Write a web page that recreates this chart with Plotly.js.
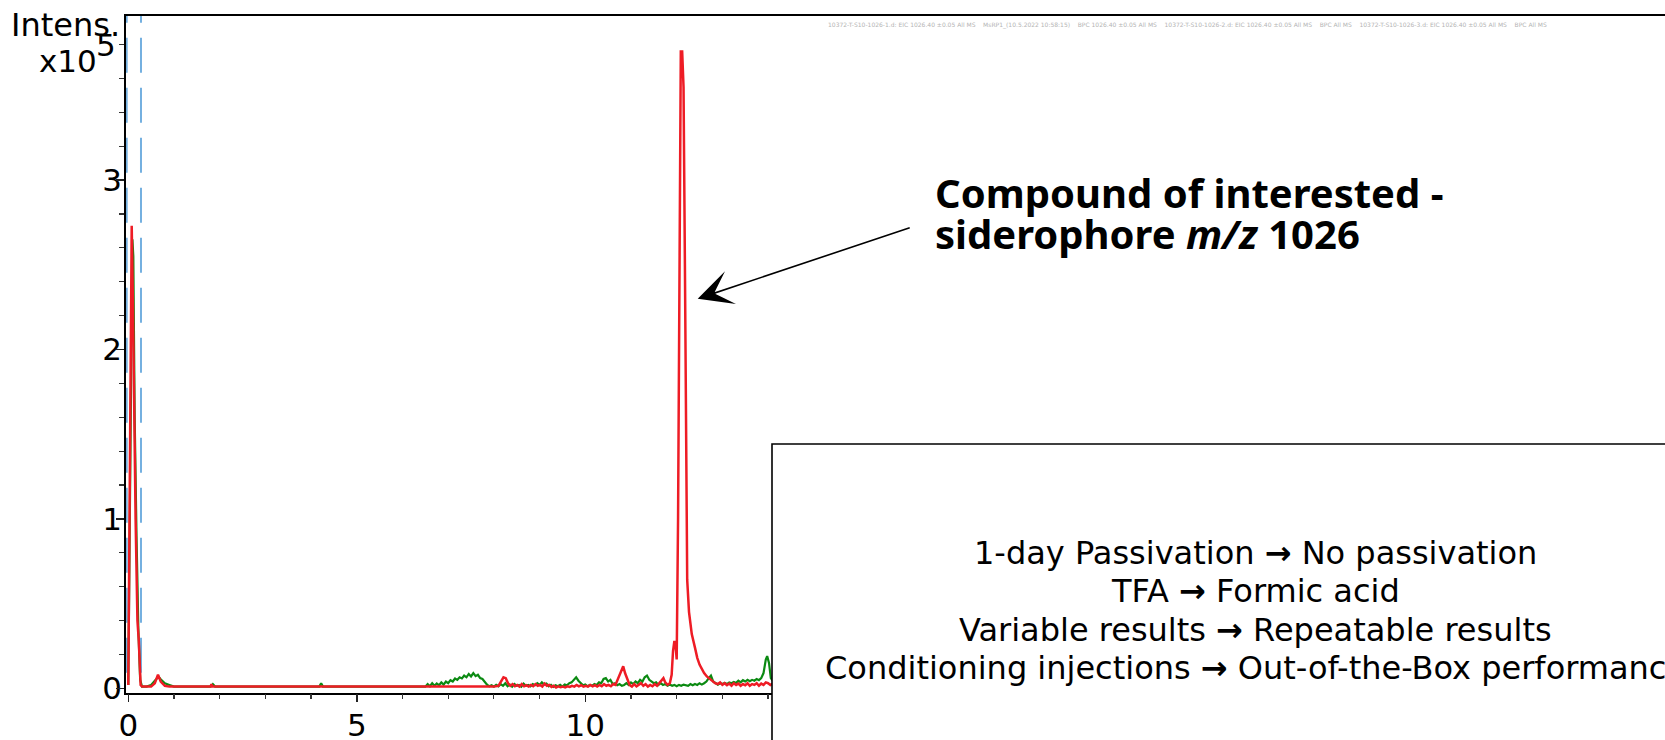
<!DOCTYPE html>
<html>
<head>
<meta charset="utf-8">
<script src="https://cdn.plot.ly/plotly-3.0.1.min.js"></script>
<style>
html,body{margin:0;padding:0;overflow:hidden;background:#fff;}
#chart{width:1900px;height:740px;}
</style>
</head>
<body>
<div id="chart"></div>
<script>
// Retention time (min) and intensity (x10^5)
const greenTime = [0,0.03,0.06,0.09,0.11,0.14,0.18,0.22,0.26,0.3,0.4,0.5,0.6,0.66,0.72,0.8,0.9,1.0,1.5,1.8,1.85,1.9,2.5,3.0,4.18,4.22,4.26,5.0,6.0,
6.50,6.55,6.60,6.65,6.70,6.75,6.80,6.85,6.90,6.95,7.00,7.05,7.10,7.15,7.20,7.25,7.30,7.35,7.40,7.45,7.50,7.55,7.60,7.65,7.70,7.75,7.80,7.85,7.90,7.95,
8.00,8.05,8.10,8.15,8.20,8.25,8.30,8.35,8.40,8.45,8.50,8.55,8.60,8.65,8.70,8.75,8.80,8.85,8.90,8.95,
9.00,9.05,9.10,9.15,9.20,9.25,9.30,9.35,9.40,9.45,9.50,9.55,9.60,9.65,9.70,9.75,9.80,9.85,9.90,9.95,
10.00,10.05,10.10,10.15,10.20,10.25,10.30,10.35,10.40,10.45,10.50,10.55,10.60,10.65,10.70,10.75,10.80,10.85,10.90,10.95,
11.00,11.05,11.10,11.15,11.20,11.25,11.30,11.35,11.40,11.45,11.50,11.55,11.60,11.65,11.70,11.75,11.80,11.85,11.90,11.95,
12.00,12.05,12.10,12.15,12.20,12.25,12.30,12.35,12.40,12.45,12.50,12.55,12.60,12.65,12.70,12.75,12.80,12.85,12.90,12.95,
13.00,13.05,13.10,13.15,13.20,13.25,13.30,13.35,13.40,13.45,13.50,13.55,13.60,13.65,13.70,13.75,13.80,13.85,13.90,13.95,
13.98,14.02,14.06,14.10,14.15,14.20,14.30];
const greenIntensity = [0.02,0.9,2.2,2.65,2.55,1.6,0.9,0.35,0.05,0.01,0.01,0.02,0.05,0.07,0.05,0.03,0.02,0.01,0.01,0.01,0.025,0.01,0.01,0.01,0.01,0.03,0.01,0.01,0.01,
0.01,0.025,0.012,0.03,0.015,0.028,0.018,0.035,0.022,0.04,0.03,0.048,0.04,0.058,0.05,0.065,0.058,0.075,0.065,0.085,0.07,0.09,0.072,0.08,0.06,0.055,0.035,0.022,0.012,0.018,
0.01,0.02,0.012,0.025,0.015,0.03,0.012,0.022,0.01,0.025,0.015,0.02,0.01,0.028,0.015,0.02,0.012,0.025,0.018,0.03,
0.02,0.035,0.022,0.028,0.012,0.02,0.008,0.018,0.012,0.02,0.01,0.022,0.018,0.03,0.035,0.05,0.065,0.045,0.03,0.018,
0.022,0.012,0.02,0.015,0.025,0.02,0.035,0.03,0.055,0.06,0.04,0.05,0.025,0.03,0.018,0.025,0.015,0.02,0.03,0.02,
0.035,0.025,0.04,0.03,0.05,0.04,0.065,0.075,0.05,0.04,0.03,0.035,0.02,0.03,0.02,0.025,0.015,0.022,0.015,0.02,
0.012,0.02,0.015,0.022,0.018,0.015,0.025,0.018,0.025,0.02,0.03,0.022,0.03,0.04,0.06,0.075,0.04,0.03,0.022,0.03,
0.025,0.032,0.025,0.035,0.03,0.038,0.032,0.045,0.035,0.048,0.04,0.05,0.042,0.05,0.045,0.055,0.048,0.06,0.09,0.17,
0.19,0.15,0.06,0.045,0.05,0.04,0.045];

const redTime = [0,0.03,0.055,0.075,0.1,0.13,0.16,0.2,0.23,0.27,0.3,0.5,0.58,0.65,0.71,0.8,0.9,1.8,1.82,1.84,
8.00,8.10,8.16,8.21,8.26,8.31,8.36,8.41,8.46,8.51,8.56,8.61,8.66,8.71,8.76,8.81,8.86,8.91,8.96,
9.01,9.06,9.11,9.16,9.21,9.26,9.31,9.36,9.41,9.46,9.51,9.56,9.61,9.66,9.71,9.76,9.81,9.86,9.91,9.96,
10.01,10.06,10.11,10.16,10.21,10.26,10.31,10.36,10.41,10.46,10.51,10.56,10.61,10.66,10.72,10.78,10.83,10.87,10.92,10.97,
11.02,11.07,11.12,11.17,11.22,11.27,11.32,11.37,11.42,11.47,11.52,11.57,11.62,11.67,11.71,11.75,11.80,11.85,11.89,11.92,11.95,11.98,
12.00,12.03,12.06,12.09,12.12,12.15,12.18,12.21,12.23,12.27,12.33,12.40,12.45,12.50,12.55,12.60,12.66,12.72,12.78,12.84,12.90,12.95,
13.00,13.05,13.10,13.15,13.20,13.25,13.30,13.35,13.40,13.45,13.50,13.55,13.60,13.65,13.70,13.75,13.80,13.85,13.90,13.95,
14.00,14.05,14.10,14.20];
const redIntensity = [0.02,1.2,2.5,2.73,2.3,1.5,1.0,0.4,0.28,0.02,0.01,0.01,0.03,0.08,0.04,0.015,0.01,0.01,0.025,0.01,
0.01,0.015,0.04,0.065,0.06,0.03,0.015,0.025,0.012,0.02,0.01,0.025,0.012,0.018,0.01,0.02,0.012,0.025,0.015,
0.02,0.01,0.028,0.015,0.02,0.008,0.015,0.005,0.012,0.006,0.01,0.005,0.012,0.008,0.015,0.01,0.02,0.012,0.018,0.01,
0.015,0.01,0.02,0.012,0.018,0.01,0.02,0.012,0.025,0.015,0.02,0.012,0.025,0.02,0.06,0.1,0.13,0.09,0.05,0.02,
0.01,0.025,0.012,0.02,0.03,0.015,0.025,0.01,0.02,0.012,0.025,0.015,0.03,0.05,0.06,0.035,0.02,0.03,0.08,0.22,0.28,0.24,
0.17,1.0,2.6,3.76,3.76,3.55,2.5,1.4,0.64,0.45,0.32,0.24,0.18,0.14,0.11,0.09,0.07,0.055,0.04,0.03,0.025,0.035,
0.02,0.03,0.018,0.028,0.015,0.03,0.02,0.028,0.015,0.025,0.018,0.03,0.015,0.025,0.02,0.03,0.015,0.028,0.02,0.035,
0.03,0.02,0.028,0.02];

const markerTimes = [-0.035, 0.278];
const xTickVals = [0,5,10,15,20,25,30,35];
const xLabelVals = [0,5,10];
const yTickVals = [0,1,2,3];
const yTickText = ['0','1','2','3'];
const boxLines = [
  ['1-day Passivation', 'No passivation'],
  ['TFA', 'Formic acid'],
  ['Variable results', 'Repeatable results'],
  ['Conditioning injections', 'Out-of-the-Box performance']
];
const calloutLines = ['Compound of interested -', 'siderophore <i>m/z</i> 1026'];
const headerText = '10372-T-S10-1026-1.d: EIC 1026.40 \u00b10.05 All MS    MsRP1_(10.5.2022 10:58:15)    BPC 1026.40 \u00b10.05 All MS    10372-T-S10-1026-2.d: EIC 1026.40 \u00b10.05 All MS    BPC All MS    10372-T-S10-1026-3.d: EIC 1026.40 \u00b10.05 All MS    BPC All MS';

// geometry helpers (pixels -> paper)
const W = 1900, H = 740, ML = 126, MT = 16, MB = 47, MR = 50;
const PW = W - ML - MR, PH = H - MT - MB;
const px = x => (x - ML) / PW;
const py = y => (H - MB - y) / PH;
const X_RANGE = [-0.05, -0.05 + PW / 45.7];
const Y_RANGE = [-0.0277, 3.969];

const FONT = 'DejaVu Sans, Verdana, sans-serif';

const traces = [
  {x: greenTime, y: greenIntensity, type: 'scatter', mode: 'lines',
   line: {color: '#0b8a12', width: 2.2}, hoverinfo: 'skip'},
  {x: redTime, y: redIntensity, type: 'scatter', mode: 'lines',
   line: {color: '#ee1c25', width: 2.5}, hoverinfo: 'skip'},
  // empty trace carrying the tick-mark overlay axes
  {x: [null], y: [null], xaxis: 'x2', yaxis: 'y2', type: 'scatter', mode: 'lines', hoverinfo: 'skip'}
];

const shapes = markerTimes.map(t => ({
  type: 'line', xref: 'x', yref: 'paper', x0: t, x1: t, y0: 0.03, y1: 1,
  line: {color: '#74b0e0', width: 2, dash: '35px,15px'}, layer: 'below'
}));
shapes.push({
  type: 'rect', xref: 'paper', yref: 'paper',
  x0: px(772), x1: 1.05, y0: -0.3, y1: py(444),
  fillcolor: '#ffffff', line: {color: '#000000', width: 1.6}, layer: 'above'
});

const annotations = [];
// faint header line (barely visible in the original)
annotations.push({xref: 'paper', yref: 'paper', x: px(826), y: py(25), xanchor: 'left', yanchor: 'middle',
  text: headerText, showarrow: false, font: {family: FONT, size: 6, color: '#b4b4b4'}});

annotations.push({xref: 'paper', yref: 'paper', x: px(122), y: py(25), xanchor: 'right', yanchor: 'middle',
  text: 'Intens.', showarrow: false, font: {family: FONT, size: 32, color: '#000'}});
annotations.push({xref: 'paper', yref: 'paper', x: px(99), y: py(61), xanchor: 'right', yanchor: 'middle',
  text: 'x10', showarrow: false, font: {family: FONT, size: 31, color: '#000'}});
annotations.push({xref: 'paper', yref: 'paper', x: px(94), y: py(45), xanchor: 'left', yanchor: 'middle',
  text: '5', showarrow: false, font: {family: FONT, size: 31, color: '#000'}});

// arrow
annotations.push({xref: 'x', yref: 'y', x: 12.46, y: 2.30, ax: 215, ay: -72, text: ' ',
  showarrow: true, arrowhead: 3, arrowsize: 3.6, arrowwidth: 1.6, arrowcolor: '#000'});
calloutLines.forEach((t, i) => annotations.push({
  xref: 'paper', yref: 'paper', x: px(933), y: py(193 + 40 * i), xanchor: 'left', yanchor: 'middle',
  text: '<b>' + t + '</b>', showarrow: false, font: {family: 'Noto Sans, sans-serif', size: 40, color: '#000'}
}));
boxLines.forEach((t, i) => annotations.push({
  xref: 'paper', yref: 'paper', x: px(1255), y: py(553 + 38.3 * i), xanchor: 'center', yanchor: 'middle',
  text: t[0] + ' <b>\u2192</b> ' + t[1], showarrow: false, font: {family: FONT, size: 32, color: '#000'}
}));

const layout = {
  width: W, height: H,
  margin: {l: ML, r: MR, t: MT, b: MB, pad: 0},
  paper_bgcolor: '#fff', plot_bgcolor: '#fff',
  showlegend: false,
  // label-carrying axes
  xaxis: {
    range: X_RANGE, tickvals: xLabelVals, ticks: '', ticklabelstandoff: 4,
    showline: true, linecolor: '#000', linewidth: 2, mirror: true,
    showgrid: false, zeroline: false, tickfont: {family: FONT, size: 31, color: '#000'}
  },
  yaxis: {
    range: Y_RANGE, tickvals: yTickVals, ticktext: yTickText, ticks: '',
    anchor: 'free', position: 0, ticklabelstandoff: 4,
    showline: false, showgrid: false, zeroline: false, tickfont: {family: FONT, size: 31, color: '#000'}
  },
  // tick-mark axes (also carry the left frame line)
  xaxis2: {
    overlaying: 'x', anchor: 'y2', side: 'bottom', range: X_RANGE, tickvals: xTickVals,
    ticks: 'outside', ticklen: 8, tickwidth: 1.5, tickcolor: '#222', showticklabels: false,
    showline: false, showgrid: false, zeroline: false,
    minor: {dtick: 1, ticks: 'outside', ticklen: 5, tickwidth: 1.2, tickcolor: '#333', showgrid: false}
  },
  yaxis2: {
    overlaying: 'y', anchor: 'x2', side: 'left', range: Y_RANGE, tickvals: yTickVals,
    ticks: 'outside', ticklen: 8, tickwidth: 1.5, tickcolor: '#222', showticklabels: false,
    showline: true, linecolor: '#000', linewidth: 2, mirror: true,
    showgrid: false, zeroline: false,
    minor: {dtick: 0.2, tick0: 0, ticks: 'outside', ticklen: 5, tickwidth: 1.2, tickcolor: '#333', showgrid: false}
  },
  shapes: shapes,
  annotations: annotations
};

Plotly.newPlot('chart', traces, layout, {displayModeBar: false, staticPlot: true});
</script>
</body>
</html>
